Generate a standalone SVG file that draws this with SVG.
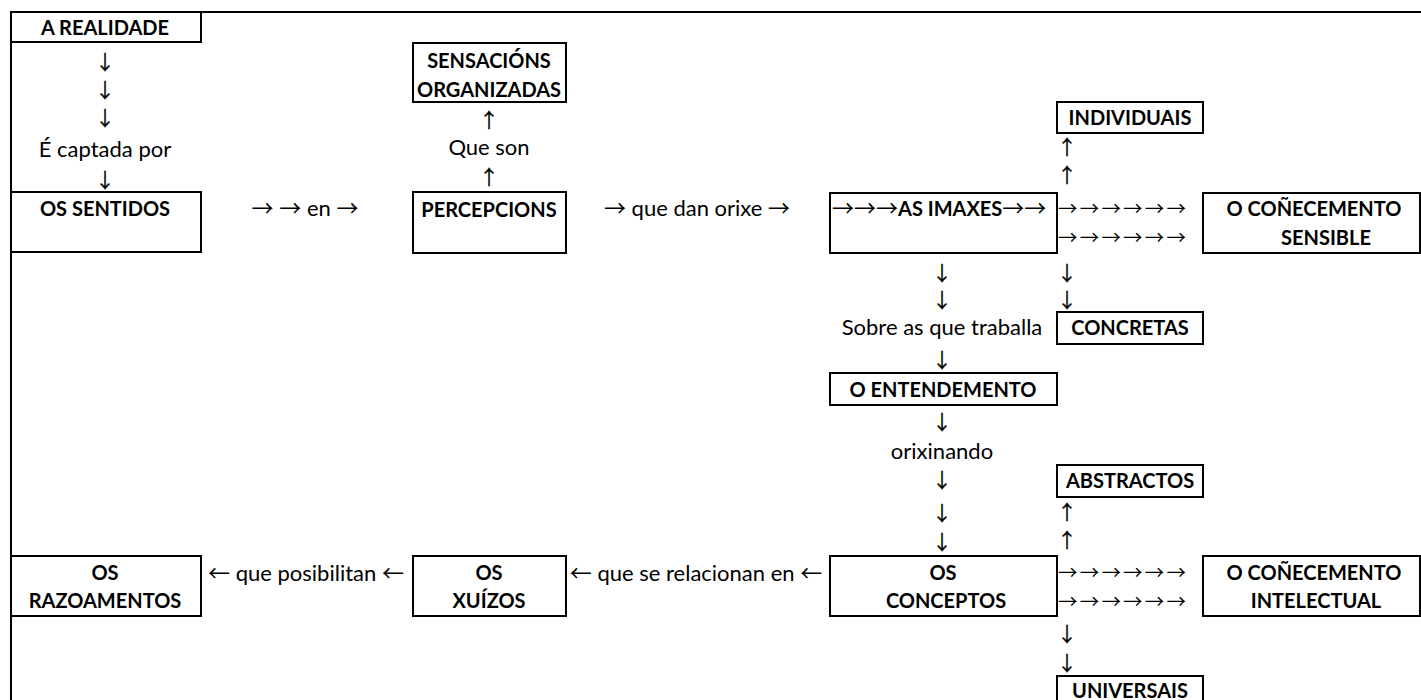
<svg xmlns="http://www.w3.org/2000/svg" width="1421" height="700" viewBox="0 0 1421 700">
<style>
.bx{fill:none;stroke:#000;stroke-width:2}
.b{font-family:Lato,'Liberation Sans',sans-serif;font-weight:bold;font-size:20px;text-anchor:middle;fill:#000}
.r{font-family:Lato,'Liberation Sans',sans-serif;font-size:22px;fill:#000}
.m{text-anchor:middle}
.a{font-family:'Noto Sans CJK SC','DejaVu Sans',sans-serif;font-weight:normal;font-size:22px}
.h{font-family:'Noto Sans CJK SC','DejaVu Sans',sans-serif;font-size:19.5px;fill:#000}
.v{font-family:'Noto Sans CJK SC','DejaVu Sans',sans-serif;font-size:20px;text-anchor:middle;fill:#000;stroke:#000;stroke-width:0.3}
</style>
<rect width="1421" height="700" fill="#fff"/>
<path class="bx" d="M11,12H1421M11,12V700"/>
<g id="n-realidade"><rect class="bx" x="11" y="12" width="190" height="30"/><text class="b" x="105" y="35">A REALIDADE</text></g>
<g id="n-sentidos"><rect class="bx" x="11" y="192" width="190" height="60"/><text class="b" x="105" y="216">OS SENTIDOS</text></g>
<g id="n-sensacions"><rect class="bx" x="413" y="43" width="153" height="59"/><text class="b" x="489" y="68">SENSACIÓNS</text><text class="b" x="489" y="97">ORGANIZADAS</text></g>
<g id="n-percepcions"><rect class="bx" x="413" y="192" width="153" height="61"/><text class="b" x="489" y="217">PERCEPCIONS</text></g>
<g id="n-imaxes"><rect class="bx" x="830" y="193" width="227" height="60"/><text class="r" x="832" y="216"><tspan class="a">→→→</tspan><tspan font-weight="bold" font-size="20">AS IMAXES</tspan><tspan class="a">→→</tspan></text></g>
<g id="n-individuais"><rect class="bx" x="1057" y="102" width="146" height="31"/><text class="b" x="1130" y="125">INDIVIDUAIS</text></g>
<g id="n-sensible"><rect class="bx" x="1203" y="193" width="217" height="60"/><text class="b" x="1314" y="216">O COÑECEMENTO</text><text class="b" x="1326" y="245">SENSIBLE</text></g>
<g id="n-concretas"><rect class="bx" x="1057" y="312" width="146" height="32"/><text class="b" x="1130" y="335">CONCRETAS</text></g>
<g id="n-entendemento"><rect class="bx" x="830" y="373" width="227" height="32"/><text class="b" x="943" y="397">O ENTENDEMENTO</text></g>
<g id="n-abstractos"><rect class="bx" x="1057" y="465" width="146" height="32"/><text class="b" x="1130" y="488">ABSTRACTOS</text></g>
<g id="n-conceptos"><rect class="bx" x="830" y="556" width="227" height="60"/><text class="b" x="943" y="580">OS</text><text class="b" x="946" y="608">CONCEPTOS</text></g>
<g id="n-intelectual"><rect class="bx" x="1203" y="556" width="217" height="60"/><text class="b" x="1314" y="580">O COÑECEMENTO</text><text class="b" x="1316" y="608">INTELECTUAL</text></g>
<g id="n-universais"><rect class="bx" x="1057" y="676" width="146" height="32"/><text class="b" x="1130" y="698">UNIVERSAIS</text></g>
<g id="n-xuizos"><rect class="bx" x="413" y="556" width="153" height="60"/><text class="b" x="489" y="580">OS</text><text class="b" x="489" y="608">XUÍZOS</text></g>
<g id="n-razoamentos"><rect class="bx" x="11" y="556" width="190" height="60"/><text class="b" x="105" y="580">OS</text><text class="b" x="105" y="608">RAZOAMENTOS</text></g>
<g id="connectors">
<g opacity="0.99">
<text class="v" x="105" y="70">↓</text>
<text class="v" x="105" y="98">↓</text>
<text class="v" x="105" y="126">↓</text>
<text class="v" x="105" y="188">↓</text>
<text class="v" x="489" y="128">↑</text>
<text class="v" x="489" y="185">↑</text>
<text class="v" x="1067" y="155">↑</text>
<text class="v" x="1067" y="183">↑</text>
<text class="v" x="942" y="281">↓</text>
<text class="v" x="942" y="308">↓</text>
<text class="v" x="1067" y="281">↓</text>
<text class="v" x="1067" y="308">↓</text>
<text class="v" x="942" y="368">↓</text>
<text class="v" x="942" y="430">↓</text>
<text class="v" x="942" y="488">↓</text>
<text class="v" x="942" y="521">↓</text>
<text class="v" x="942" y="550">↓</text>
<text class="v" x="1067" y="520">↑</text>
<text class="v" x="1067" y="548">↑</text>
<text class="v" x="1067" y="642">↓</text>
<text class="v" x="1067" y="671">↓</text>
</g>
<text class="r m" x="105" y="157">É captada por</text>
<text class="r m" x="489" y="155">Que son</text>
<text class="r m" x="305" y="216"><tspan class="a">→</tspan> <tspan class="a">→</tspan> en <tspan class="a">→</tspan></text>
<text class="r m" x="697" y="216"><tspan class="a">→</tspan> que dan orixe  <tspan class="a">→</tspan></text>
<text class="h" x="1058" y="216" textLength="128">→→→→→→</text>
<text class="h" x="1058" y="245" textLength="128">→→→→→→</text>
<text class="r m" x="942" y="335">Sobre as que traballa</text>
<text class="r m" x="942" y="459">orixinando</text>
<text class="h" x="1058" y="580" textLength="128">→→→→→→</text>
<text class="h" x="1058" y="609" textLength="128">→→→→→→</text>
<text class="r m" x="696" y="581"><tspan class="a">←</tspan> que se relacionan en <tspan class="a">←</tspan></text>
<text class="r m" x="306" y="581"><tspan class="a">←</tspan> que posibilitan <tspan class="a">←</tspan></text>
</g>
</svg>
